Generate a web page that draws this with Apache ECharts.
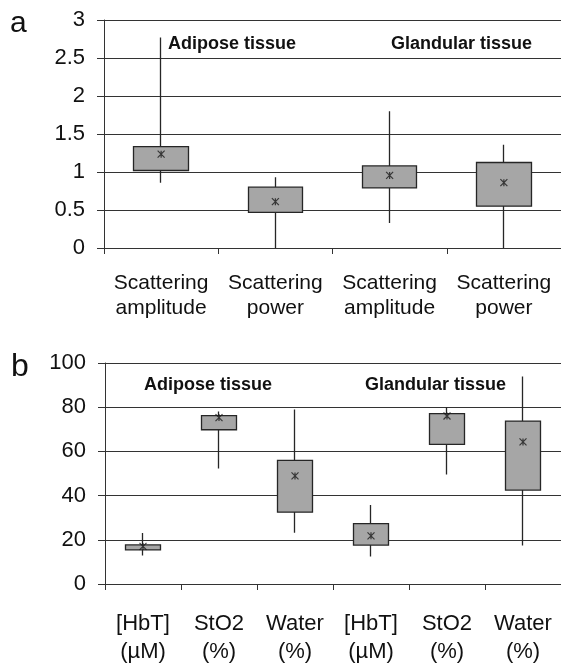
<!DOCTYPE html>
<html>
<head>
<meta charset="utf-8">
<script src="https://cdn.jsdelivr.net/npm/echarts@6/dist/echarts.min.js"></script>
<style>
html,body{margin:0;padding:0;background:#fff;}
#chart{width:561px;height:666px;}
</style>
</head>
<body>
<div id="chart"></div>
<script>
// Panel a
var aCategories = ['Scattering\namplitude', 'Scattering\npower', 'Scattering\namplitude', 'Scattering\npower'];
var aMin  = [0.86, 0.00, 0.33, 0.00];
var aQ1   = [1.02, 0.47, 0.79, 0.55];
var aQ3   = [1.335, 0.80, 1.08, 1.125];
var aMax  = [2.77, 0.93, 1.80, 1.36];
var aMean = [1.235, 0.61, 0.955, 0.86];
var aTicks = [0, 0.5, 1, 1.5, 2, 2.5, 3];

// Panel b
var bCategories = ['[HbT]\n(µM)', 'StO2\n(%)', 'Water\n(%)', '[HbT]\n(µM)', 'StO2\n(%)', 'Water\n(%)'];
var bMin  = [12.9, 52.3, 23.2, 12.5, 49.5, 17.4];
var bQ1   = [15.4, 69.8, 32.5, 17.6, 63.2, 42.5];
var bQ3   = [17.7, 76.2, 55.9, 27.3, 77.1, 73.7];
var bMax  = [23.1, 78.0, 79.0, 35.7, 80.1, 93.9];
var bMean = [17.0, 75.3, 48.9, 21.8, 76.0, 64.3];
var bTicks = [0, 20, 40, 60, 80, 100];

var tissueLabels = ['Adipose tissue', 'Glandular tissue'];
var panelLabels = ['a', 'b'];

function candle(q1, q3, mn, mx) {
  return q1.map(function (v, i) { return [v, q3[i], mn[i], mx[i]]; });
}

var FONT = '"Liberation Sans", Arial, sans-serif';
var lineCol = '#333333';
var starPath = 'path://M0,0L8,8M8,0L0,8M4,0L4,8';

var chart = echarts.init(document.getElementById('chart'));
function yAxis(idx, ticks) {
  return {
    type: 'value', gridIndex: idx,
    min: ticks[0], max: ticks[ticks.length - 1], interval: ticks[1] - ticks[0],
    axisLine: {show: true, lineStyle: {color: lineCol, width: 1}},
    axisTick: {show: true, length: 7, lineStyle: {color: lineCol}},
    splitLine: {show: true, lineStyle: {color: lineCol, width: 1}},
    axisLabel: {color: '#111', fontFamily: FONT, fontSize: 22, margin: 19}
  };
}
function xAxis(idx, cats, fs, lh, margin) {
  return {
    type: 'category', gridIndex: idx, data: cats, boundaryGap: true,
    axisLine: {show: true, lineStyle: {color: lineCol, width: 1}},
    axisTick: {show: true, length: 6, lineStyle: {color: lineCol}},
    splitLine: {show: false},
    axisLabel: {color: '#111', fontFamily: FONT, fontSize: fs, lineHeight: lh, margin: margin, interval: 0}
  };
}
var boxStyle = {color: '#a6a6a6', color0: '#a6a6a6', borderColor: '#262626', borderColor0: '#262626', borderWidth: 1.3};
var meanStyle = {color: 'none', borderColor: '#1a1a1a', borderWidth: 1.2};

chart.setOption({
  animation: false,
  backgroundColor: '#fff',
  grid: [
    {left: 104, top: 20, width: 458, height: 228},
    {left: 105, top: 363, width: 459, height: 229}
  ],
  xAxis: [xAxis(0, aCategories, 21, 25, 23), xAxis(1, bCategories, 22, 28, 26)],
  yAxis: [yAxis(0, aTicks), yAxis(1, bTicks)],
  series: [
    {type: 'candlestick', xAxisIndex: 0, yAxisIndex: 0, barWidth: '48%', barMaxWidth: 200,
     itemStyle: boxStyle, data: candle(aQ1, aQ3, aMin, aMax)},
    {type: 'scatter', xAxisIndex: 0, yAxisIndex: 0, symbol: starPath, symbolSize: 7,
     itemStyle: meanStyle, data: aMean, z: 5},
    {type: 'candlestick', xAxisIndex: 1, yAxisIndex: 1, barWidth: '48%', barMaxWidth: 200,
     itemStyle: boxStyle, data: candle(bQ1, bQ3, bMin, bMax)},
    {type: 'scatter', xAxisIndex: 1, yAxisIndex: 1, symbol: starPath, symbolSize: 7,
     itemStyle: meanStyle, data: bMean, z: 5}
  ],
  graphic: [
    {type: 'text', left: 10, top: 9, style: {text: panelLabels[0], font: '30px ' + FONT, fill: '#111'}},
    {type: 'text', left: 11, top: 351, style: {text: panelLabels[1], font: '32px ' + FONT, fill: '#111'}},
    {type: 'text', x: 168, y: 44, style: {text: tissueLabels[0], font: 'bold 18px ' + FONT, fill: '#111', verticalAlign: 'middle'}},
    {type: 'text', x: 391, y: 44, style: {text: tissueLabels[1], font: 'bold 18px ' + FONT, fill: '#111', verticalAlign: 'middle'}},
    {type: 'text', x: 144, y: 385, style: {text: tissueLabels[0], font: 'bold 18px ' + FONT, fill: '#111', verticalAlign: 'middle'}},
    {type: 'text', x: 365, y: 385, style: {text: tissueLabels[1], font: 'bold 18px ' + FONT, fill: '#111', verticalAlign: 'middle'}}
  ]
});
</script>
</body>
</html>
